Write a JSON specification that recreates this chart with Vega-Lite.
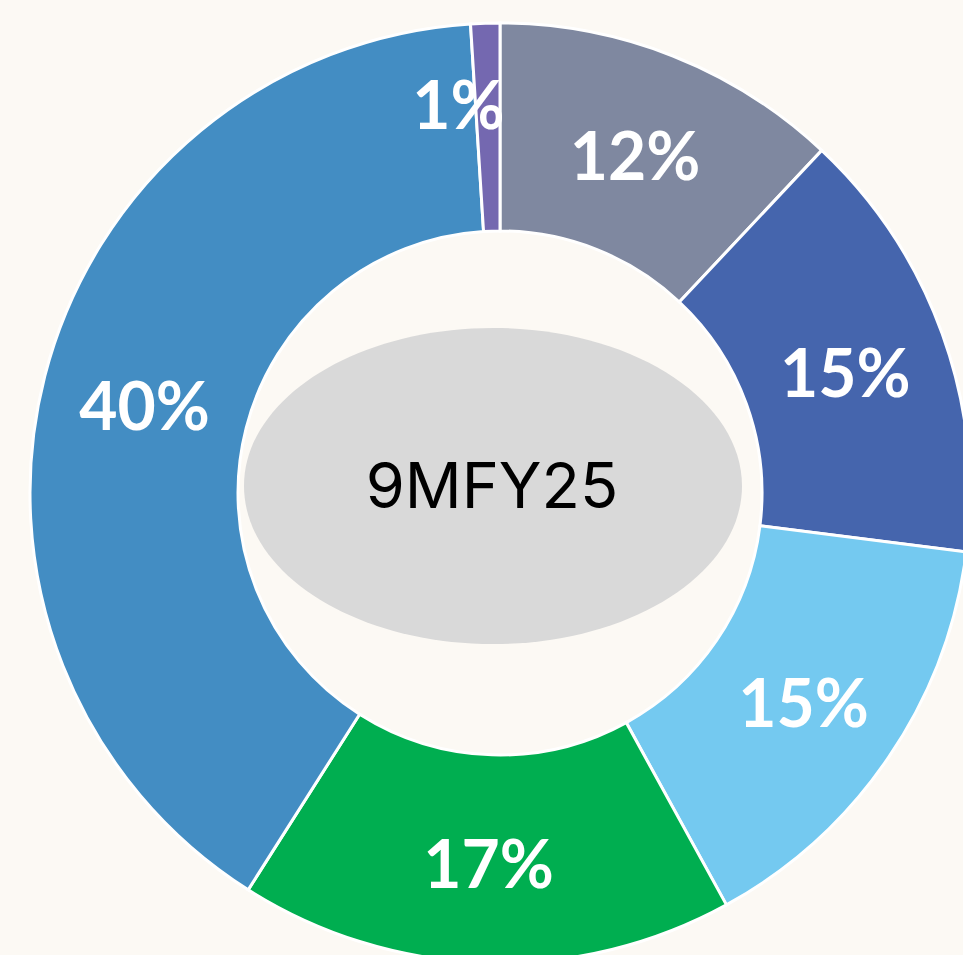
{
  "$schema": "https://vega.github.io/schema/vega-lite/v6.json",
  "width": 926,
  "height": 924,
  "autosize": "none",
  "padding": {"left": 37, "top": 31, "right": 0, "bottom": 0},
  "background": "#FCF9F4",
  "config": {"view": {"stroke": null}},
  "layer": [
    {
      "data": {
        "values": [
          {"segment": "A", "rank": 1, "share": 0.12},
          {"segment": "B", "rank": 2, "share": 0.15},
          {"segment": "C", "rank": 3, "share": 0.15},
          {"segment": "D", "rank": 4, "share": 0.17},
          {"segment": "E", "rank": 5, "share": 0.40},
          {"segment": "F", "rank": 6, "share": 0.01}
        ]
      },
      "encoding": {
        "theta": {"field": "share", "type": "quantitative", "stack": true},
        "order": {"field": "rank", "type": "quantitative"},
        "color": {
          "field": "segment",
          "type": "nominal",
          "legend": null,
          "scale": {
            "domain": ["A", "B", "C", "D", "E", "F"],
            "range": ["#7F88A0", "#4565AD", "#74C9F0", "#00AE50", "#438DC3", "#7468B0"]
          }
        }
      },
      "layer": [
        {
          "mark": {"type": "arc", "outerRadius": 470, "innerRadius": 262, "stroke": "white", "strokeWidth": 3}
        },
        {
          "mark": {"type": "text", "radius": 367, "dy": 8, "font": "Lato", "fontWeight": "bold", "fontSize": 66, "baseline": "middle", "align": "center"},
          "encoding": {
            "text": {"field": "share", "type": "quantitative", "format": ".0%"},
            "color": {"value": "white"},
            "opacity": {"condition": {"test": "datum.share < 0.02", "value": 0}, "value": 1}
          }
        },
        {
          "mark": {"type": "text", "radius": 366, "dx": -30, "dy": -18, "font": "Lato", "fontWeight": "bold", "fontSize": 66, "baseline": "middle", "align": "center"},
          "encoding": {
            "text": {"field": "share", "type": "quantitative", "format": ".0%"},
            "color": {"value": "white"},
            "opacity": {"condition": {"test": "datum.share < 0.02", "value": 1}, "value": 0}
          }
        }
      ]
    },
    {
      "data": {"values": [{"period": "9MFY25"}]},
      "mark": {"type": "point", "shape": "M-1,0A1,0.635 0 1,1 1,0A1,0.635 0 1,1 -1,0Z", "size": 248004, "filled": true, "fill": "#D9D9D9", "opacity": 1, "xOffset": -7, "yOffset": -7},
      "encoding": {}
    },
    {
      "data": {"values": [{"period": "9MFY25"}]},
      "mark": {"type": "text", "font": "Inter", "fontSize": 63, "fill": "black", "baseline": "middle", "align": "center", "xOffset": -8, "yOffset": -4},
      "encoding": {"text": {"field": "period", "type": "nominal"}}
    }
  ]
}
